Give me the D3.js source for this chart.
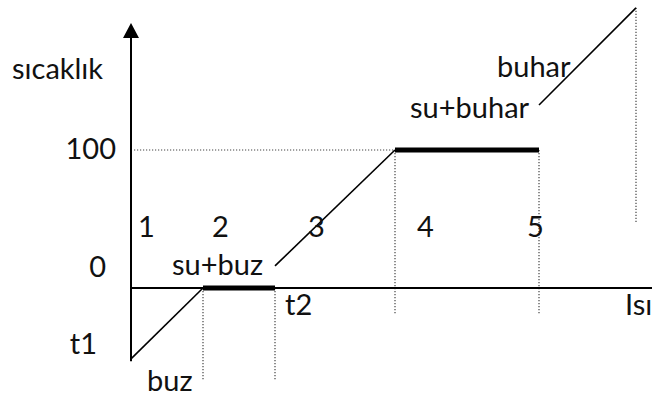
<!DOCTYPE html>
<html>
<head>
<meta charset="utf-8">
<script src="https://cdn.jsdelivr.net/npm/d3@7"></script>
<style>
body { margin: 0; background: #fff; }
text { font-family: Lato, "Open Sans", sans-serif; fill: #111; }
</style>
</head>
<body>
<div id="chart"></div>
<script>
// heating curve of water: heat (x) vs temperature (y)
const phases    = ["buz", "su+buz", "su", "su+buhar", "buhar"];
const heatStart = [0, 72, 144, 264, 408];
const heatEnd   = [72, 144, 264, 408, 505];
const tempStart = [-51.4, 0, 16, 100, 132.6];
const tempEnd   = [0, 0, 100, 100, 203];

// axis labels on the temperature side
const yTickValues = [100, 0, -51.4];
const yTickLabels = ["100", "0", "t1"];

// stage numbers
const stageLabels = ["1", "2", "3", "4", "5"];
const stageHeat   = [7, 81, 177, 286, 396];
const stageTemp   = 37;

// phase names (anchor in data units: heat, temp)
const phaseLabels = ["buz", "su+buz", "su+buhar", "buhar"];
const phaseHeat   = [16, 41, 279, 366];
const phaseTemp   = [-74.6, 9.4, 123, 153];

const W = 652, H = 399;
const svg = d3.select("#chart").append("svg")
    .attr("width", W)
    .attr("height", H);

const x = d3.scaleLinear().domain([0, 521]).range([131, 652]);
const y = d3.scaleLinear().domain([0, 100]).range([288, 150]);

const dotted = (sel) => sel
    .attr("stroke", "#444")
    .attr("stroke-width", 1.2)
    .attr("stroke-dasharray", "1.2,1.8")
    .attr("fill", "none");

// dotted guide at 100
svg.append("line")
    .attr("x1", x(3)).attr("x2", x(heatEnd[2]))
    .attr("y1", y(100)).attr("y2", y(100))
    .call(dotted);

// dotted drops below the phase changes
const drops = [
    { h: heatEnd[0], t0: 0, t1: -66.7 },
    { h: heatEnd[1], t0: 0, t1: -66.7 },
    { h: heatEnd[2], t0: 100, t1: -19.6 },
    { h: heatEnd[3], t0: 100, t1: -19.6 },
    { h: heatEnd[4], t0: tempEnd[4], t1: 47.8 }
];
svg.selectAll(".drop")
    .data(drops)
    .enter()
    .append("line")
    .attr("class", "drop")
    .attr("x1", d => x(d.h)).attr("x2", d => x(d.h))
    .attr("y1", d => y(d.t0)).attr("y2", d => y(d.t1))
    .call(dotted);

// axes
svg.append("line")
    .attr("x1", x(0)).attr("x2", W)
    .attr("y1", y(0)).attr("y2", y(0))
    .attr("stroke", "#000").attr("stroke-width", 2);

svg.append("line")
    .attr("x1", x(0)).attr("x2", x(0))
    .attr("y1", y(-53)).attr("y2", 37)
    .attr("stroke", "#000").attr("stroke-width", 2);

svg.append("path")
    .attr("d", `M${x(0)},23 L${x(0) - 8},38 L${x(0) + 8},38 Z`)
    .attr("fill", "#000");

// the curve
const segs = phases.map((p, i) => ({
    phase: p,
    h0: heatStart[i], h1: heatEnd[i],
    t0: tempStart[i], t1: tempEnd[i]
}));

svg.selectAll(".seg")
    .data(segs)
    .enter()
    .append("line")
    .attr("class", "seg")
    .attr("x1", d => x(d.h0)).attr("x2", d => x(d.h1))
    .attr("y1", d => y(d.t0)).attr("y2", d => y(d.t1))
    .attr("stroke", "#000")
    .attr("stroke-width", d => d.t0 === d.t1 ? 5 : 1.6);

// texts
const fs = 29;

svg.selectAll(".ylab")
    .data(yTickValues)
    .enter()
    .append("text")
    .attr("class", "ylab")
    .attr("x", (d, i) => [116, 106, 97][i])
    .attr("y", (d, i) => y(d) + [9, -11, -5][i])
    .attr("text-anchor", "end")
    .attr("font-size", fs)
    .text((d, i) => yTickLabels[i]);

svg.append("text")
    .attr("x", 12)
    .attr("y", 79)
    .attr("font-size", fs)
    .text("sıcaklık");

svg.append("text")
    .attr("x", x(154))
    .attr("y", y(-19.6))
    .attr("font-size", fs)
    .text("t2");

svg.append("text")
    .attr("x", x(494))
    .attr("y", y(-19.6))
    .attr("font-size", fs)
    .text("Isı");

svg.selectAll(".stage")
    .data(stageLabels)
    .enter()
    .append("text")
    .attr("class", "stage")
    .attr("x", (d, i) => x(stageHeat[i]))
    .attr("y", y(stageTemp))
    .attr("font-size", fs)
    .text(d => d);

svg.selectAll(".phase")
    .data(phaseLabels)
    .enter()
    .append("text")
    .attr("class", "phase")
    .attr("x", (d, i) => x(phaseHeat[i]))
    .attr("y", (d, i) => y(phaseTemp[i]))
    .attr("font-size", fs)
    .text(d => d);
</script>
</body>
</html>
